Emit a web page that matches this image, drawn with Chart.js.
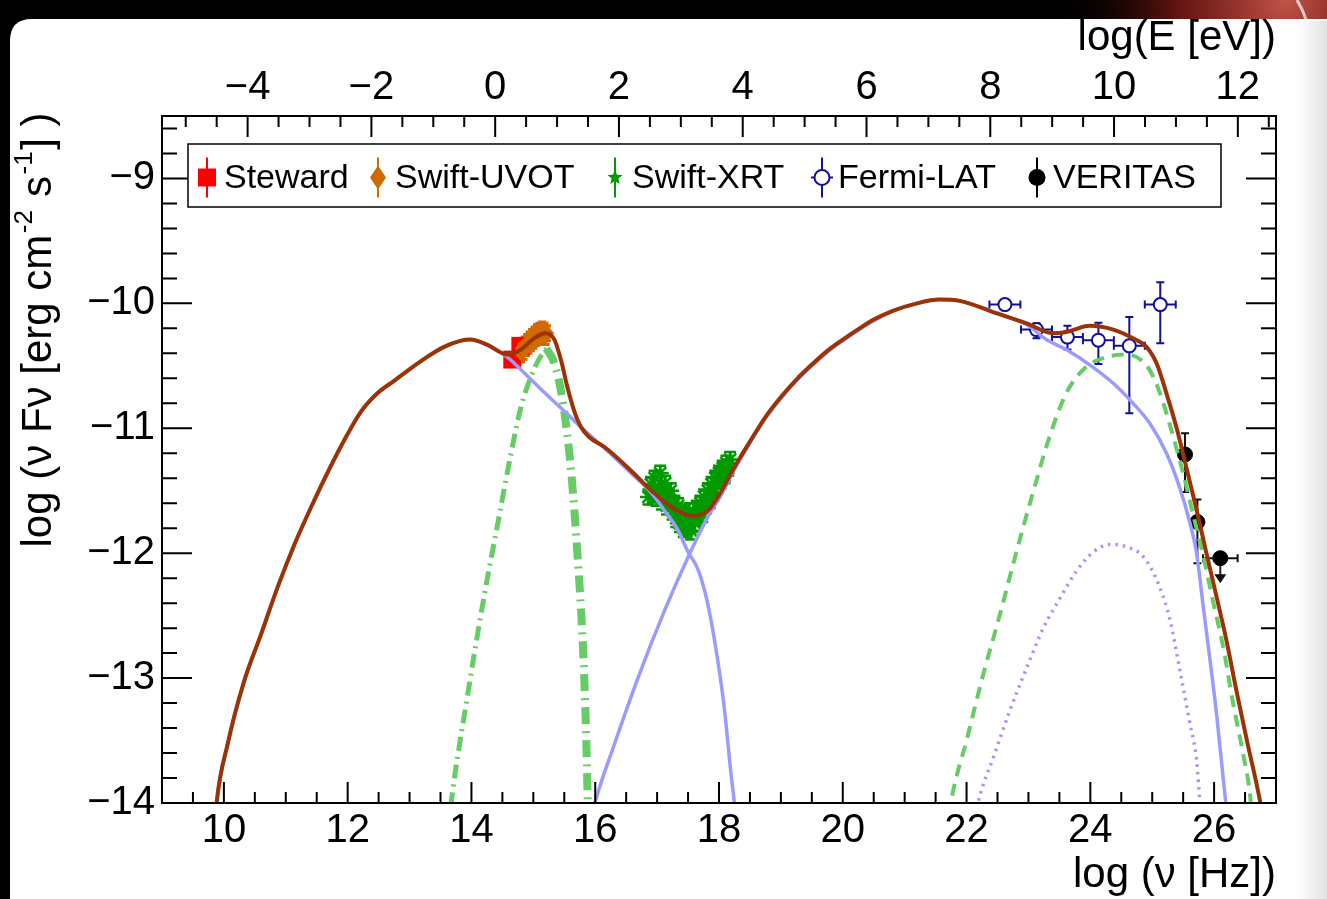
<!DOCTYPE html>
<html>
<head>
<meta charset="utf-8">
<script src="https://cdn.jsdelivr.net/npm/chart.js@4.4.0/dist/chart.umd.min.js"></script>
<style>
  html, body { margin: 0; padding: 0; background: #000; overflow: hidden; }
  canvas { display: block; }
</style>
</head>
<body>
<canvas id="sed" width="1327" height="899"></canvas>
<script>
// ---------------------------------------------------------------------------
// Axis tick values
// ---------------------------------------------------------------------------
const nuTickValues = [10, 12, 14, 16, 18, 20, 22, 24, 26];
const energyTickValues = [-4, -2, 0, 2, 4, 6, 8, 10, 12];
const fluxTickValues = [-14, -13, -12, -11, -10, -9];

// ---------------------------------------------------------------------------
// Observations: log(nu/Hz), log(nu F_nu / erg cm^-2 s^-1) and errors
// ---------------------------------------------------------------------------
const stewardLogNu = [14.79, 14.66];
const stewardLogFlux = [-10.34, -10.45];

const uvotLogNu = [14.80, 14.82, 14.84, 14.86, 14.88, 14.90, 14.92, 14.94, 14.96, 14.98, 15.00,
                   15.02, 15.04, 15.06, 15.08, 15.10, 15.12, 15.14, 15.16, 15.18, 15.20, 15.22];
const uvotLogFlux = [-10.40, -10.36, -10.38, -10.33, -10.35, -10.31, -10.33, -10.29, -10.31, -10.27, -10.29,
                     -10.25, -10.27, -10.23, -10.26, -10.22, -10.25, -10.21, -10.24, -10.22, -10.26, -10.24];
const uvotErr = [0.07, 0.06, 0.07, 0.06, 0.07, 0.06, 0.07, 0.06, 0.07, 0.06, 0.07,
                 0.06, 0.07, 0.06, 0.07, 0.06, 0.07, 0.06, 0.07, 0.06, 0.07, 0.06];

const xrtLogNu = [16.86, 16.90, 16.93, 16.96, 16.99, 17.02, 17.05, 17.08, 17.10, 17.13, 17.16, 17.19,
                  17.22, 17.25, 17.28, 17.31, 17.34, 17.37, 17.40, 17.43, 17.46, 17.49, 17.52, 17.55,
                  17.58, 17.61, 17.64, 17.67, 17.70, 17.73, 17.76, 17.79, 17.82, 17.85, 17.88, 17.91,
                  17.94, 17.97, 18.00, 18.03, 18.06, 18.09, 18.12, 18.15, 18.18];
const xrtLogFlux = [-11.55, -11.45, -11.52, -11.40, -11.55, -11.48, -11.36, -11.58, -11.50, -11.44, -11.62, -11.55,
                    -11.50, -11.66, -11.60, -11.72, -11.62, -11.76, -11.68, -11.80, -11.70, -11.78, -11.66, -11.82,
                    -11.70, -11.76, -11.64, -11.72, -11.60, -11.68, -11.55, -11.62, -11.50, -11.58, -11.45, -11.52,
                    -11.40, -11.46, -11.36, -11.42, -11.32, -11.38, -11.28, -11.32, -11.25];
const xrtErr = [0.06, 0.06, 0.07, 0.06, 0.07, 0.06, 0.06, 0.07, 0.06, 0.06, 0.07, 0.06,
                0.06, 0.07, 0.06, 0.07, 0.06, 0.07, 0.06, 0.07, 0.06, 0.07, 0.06, 0.07,
                0.06, 0.07, 0.06, 0.06, 0.06, 0.07, 0.06, 0.06, 0.06, 0.06, 0.06, 0.06,
                0.06, 0.06, 0.06, 0.06, 0.06, 0.06, 0.06, 0.06, 0.06];

const fermiLogNu = [22.62, 23.13, 23.63, 24.13, 24.63, 25.13];
const fermiLogFlux = [-10.01, -10.21, -10.27, -10.295, -10.34, -10.01];
const fermiErrUp = [0.03, 0.05, 0.09, 0.14, 0.23, 0.18];
const fermiErrDown = [0.03, 0.07, 0.10, 0.19, 0.54, 0.31];
const fermiNuHalfWidth = [0.25, 0.25, 0.25, 0.25, 0.25, 0.25];

const veritasLogNu = [25.53, 25.73, 26.10];
const veritasLogFlux = [-11.21, -11.75, -12.04];
const veritasErrUp = [0.17, 0.18, 0];
const veritasErrDown = [0.30, 0.33, 0];
const veritasNuHalfWidth = [0, 0, 0.28];
const veritasUpperLimit = [false, false, true];

// ---------------------------------------------------------------------------
// Model components: [log nu, log nu F_nu]
// ---------------------------------------------------------------------------
const totalModel = [[9.86, -14.15], [9.88, -14.01], [10.06, -13.53], [10.33, -13.02], [10.6, -12.65],
  [10.87, -12.27], [11.14, -11.93], [11.41, -11.63], [11.68, -11.35], [11.94, -11.10], [12.21, -10.87],
  [12.48, -10.72], [12.75, -10.62], [13.02, -10.52], [13.28, -10.43], [13.55, -10.35], [13.82, -10.30],
  [13.98, -10.29], [14.25, -10.33], [14.58, -10.41], [14.8, -10.37], [15.01, -10.28], [15.2, -10.24],
  [15.34, -10.29], [15.45, -10.46], [15.55, -10.67], [15.66, -10.86], [15.77, -10.99], [15.9, -11.07],
  [16.15, -11.15], [16.58, -11.34], [16.91, -11.50], [17.23, -11.63], [17.55, -11.70], [17.82, -11.66],
  [18.03, -11.51], [18.25, -11.31], [18.52, -11.09], [18.75, -10.91], [19.0, -10.75], [19.25, -10.61],
  [19.5, -10.49], [19.75, -10.38], [20.0, -10.29], [20.27, -10.20], [20.5, -10.13], [20.81, -10.06],
  [21.2, -10.00], [21.56, -9.97], [21.89, -9.98], [22.43, -10.07], [22.97, -10.16], [23.40, -10.24],
  [23.61, -10.23], [23.99, -10.18], [24.37, -10.21], [24.69, -10.28], [24.91, -10.35], [25.07, -10.48],
  [25.23, -10.72], [25.39, -10.99], [25.55, -11.31], [25.72, -11.66], [25.88, -12.01], [26.04, -12.35],
  [26.2, -12.70], [26.36, -13.10], [26.53, -13.50], [26.74, -13.98], [26.78, -14.10]];

const synchrotron = [[9.86, -14.15], [9.88, -14.01], [10.06, -13.53], [10.33, -13.02], [10.6, -12.65],
  [10.87, -12.27], [11.14, -11.93], [11.41, -11.63], [11.68, -11.35], [11.94, -11.10], [12.21, -10.87],
  [12.48, -10.72], [12.75, -10.62], [13.02, -10.52], [13.28, -10.43], [13.55, -10.35], [13.82, -10.30],
  [13.98, -10.29], [14.25, -10.33], [14.58, -10.43], [14.9, -10.58], [15.17, -10.71], [15.45, -10.84],
  [15.77, -10.99], [16.15, -11.16], [16.58, -11.36], [16.91, -11.52], [17.12, -11.66], [17.33, -11.81],
  [17.5, -11.99], [17.66, -12.13], [17.82, -12.41], [17.98, -12.86], [18.09, -13.26], [18.19, -13.75],
  [18.25, -14.01], [18.28, -14.20]];

const selfCompton = [[15.95, -14.10], [15.99, -14.01], [16.31, -13.53], [16.69, -13.0], [17.12, -12.46],
  [17.52, -12.01], [17.82, -11.71], [18.03, -11.54], [18.25, -11.33], [18.52, -11.10], [18.75, -10.92],
  [19.0, -10.76], [19.25, -10.62], [19.5, -10.50], [19.75, -10.39], [20.0, -10.30], [20.27, -10.21],
  [20.5, -10.14], [20.81, -10.06], [21.2, -10.00], [21.56, -9.97], [21.89, -9.98], [22.43, -10.07],
  [22.97, -10.17], [23.29, -10.29], [23.61, -10.37], [24.04, -10.51], [24.37, -10.64], [24.69, -10.80],
  [24.96, -10.96], [25.23, -11.20], [25.44, -11.47], [25.6, -11.74], [25.72, -12.01], [25.82, -12.41],
  [25.93, -12.84], [26.04, -13.29], [26.14, -13.77], [26.2, -14.05]];

const secondaryCompton = [[22.15, -14.10], [22.19, -13.99], [22.43, -13.64], [22.7, -13.26], [22.97, -12.92],
  [23.24, -12.60], [23.51, -12.36], [23.78, -12.14], [24.05, -11.99], [24.32, -11.93], [24.59, -11.95],
  [24.86, -12.03], [25.12, -12.27], [25.29, -12.54], [25.44, -12.92], [25.6, -13.34], [25.72, -13.67],
  [25.77, -13.99], [25.79, -14.10]];

const externalCompton = [[21.72, -14.10], [21.75, -13.99], [22.0, -13.5], [22.27, -12.97], [22.54, -12.49],
  [22.8, -12.0], [23.07, -11.52], [23.34, -11.07], [23.61, -10.72], [23.93, -10.51], [24.26, -10.43],
  [24.59, -10.41], [24.86, -10.47], [25.02, -10.59], [25.18, -10.80], [25.34, -11.07], [25.5, -11.36],
  [25.66, -11.69], [25.82, -12.01], [25.98, -12.38], [26.15, -12.76], [26.31, -13.21], [26.47, -13.61],
  [26.58, -13.93], [26.61, -14.10]];

const thermalRise = [[13.62, -14.25], [13.67, -14.01], [13.94, -13.13], [14.21, -12.33], [14.43, -11.75],
  [14.64, -11.20], [14.8, -10.83], [14.96, -10.59], [15.1, -10.44], [15.21, -10.36]];
const thermalFall = [[15.21, -10.36], [15.34, -10.48], [15.48, -10.80], [15.61, -11.34], [15.72, -12.06],
  [15.8, -12.73], [15.85, -13.40], [15.88, -14.01], [15.89, -14.25]];

// ---------------------------------------------------------------------------
// Styling constants
// ---------------------------------------------------------------------------
const FONT = '"Liberation Sans", Arial, Helvetica, sans-serif';
const LOG_PLANCK_EV = Math.log10(4.135667e-15);
const NU_MIN = 9, NU_MAX = 27, FLUX_MIN = -14, FLUX_MAX = -8.5;

const C_TOTAL = '#9b3306';
const C_BLUE = '#9b9bff';
const C_GREEN = '#66cc66';
const C_STEWARD = '#ff0000';
const C_UVOT = '#d06a00';
const C_XRT = '#009a00';
const C_FERMI = '#10109a';

const pts = (xs, ys) => xs.map((x, i) => ({ x, y: ys[i] }));
const pairs = arr => arr.map(([x, y]) => ({ x, y }));
const fmtTick = v => (v < 0 ? '\u2212' + Math.abs(v) : String(v));

function curve(data, color, width, dash, order) {
  return {
    data: pairs(data), showLine: true, borderColor: color, borderWidth: width,
    borderDash: dash, pointRadius: 0, pointHoverRadius: 0, fill: false,
    cubicInterpolationMode: 'monotone', clip: 0, order
  };
}

function markers(data, style, radius, fillColor, lineColor, lineWidth, order) {
  return {
    data, showLine: false, pointStyle: style, pointRadius: radius, pointHoverRadius: radius,
    pointBackgroundColor: fillColor, pointBorderColor: lineColor, pointBorderWidth: lineWidth,
    clip: 0, order
  };
}

// ---------------------------------------------------------------------------
// Plugins
// ---------------------------------------------------------------------------
const slideBackground = {
  id: 'slideBackground',
  beforeDraw(chart) {
    const { ctx, width, height } = chart;
    ctx.save();
    ctx.fillStyle = '#000';
    ctx.fillRect(0, 0, width, height);
    const glow = ctx.createRadialGradient(1285, 0, 4, 1285, 0, 230);
    glow.addColorStop(0, 'rgba(190,80,70,1)');
    glow.addColorStop(0.45, 'rgba(120,25,20,0.85)');
    glow.addColorStop(1, 'rgba(0,0,0,0)');
    ctx.fillStyle = glow;
    ctx.fillRect(1000, 0, width - 1000, 40);
    ctx.strokeStyle = 'rgba(235,225,225,0.85)';
    ctx.lineWidth = 3;
    ctx.beginPath();
    ctx.moveTo(1297, 0);
    ctx.quadraticCurveTo(1303, 10, 1307, 22);
    ctx.stroke();
    // white panel
    const x0 = 10, y0 = 19, r = 22;
    ctx.fillStyle = '#fff';
    ctx.beginPath();
    ctx.moveTo(x0 + r, y0);
    ctx.lineTo(width + 10, y0);
    ctx.lineTo(width + 10, height + 10);
    ctx.lineTo(x0, height + 10);
    ctx.lineTo(x0, y0 + r);
    ctx.quadraticCurveTo(x0, y0, x0 + r, y0);
    ctx.fill();
    const fade = ctx.createLinearGradient(1296, 0, width, 0);
    fade.addColorStop(0, 'rgba(232,232,232,0)');
    fade.addColorStop(1, 'rgba(226,226,226,1)');
    ctx.fillStyle = fade;
    ctx.fillRect(1296, y0 + 2, width - 1296, height);
    ctx.restore();
  }
};

function drawErrorBars(ctx, sx, sy, xs, ys, up, down, xHalf, color, width, cap) {
  ctx.save();
  ctx.strokeStyle = color;
  ctx.lineWidth = width;
  ctx.beginPath();
  xs.forEach((x, i) => {
    const px = sx.getPixelForValue(x);
    if (up && (up[i] || down[i])) {
      const yTop = sy.getPixelForValue(ys[i] + up[i]);
      const yBot = sy.getPixelForValue(ys[i] - down[i]);
      ctx.moveTo(px, yTop); ctx.lineTo(px, yBot);
      if (cap) {
        ctx.moveTo(px - cap, yTop); ctx.lineTo(px + cap, yTop);
        ctx.moveTo(px - cap, yBot); ctx.lineTo(px + cap, yBot);
      }
    }
    if (xHalf && xHalf[i]) {
      const py = sy.getPixelForValue(ys[i]);
      const xl = sx.getPixelForValue(x - xHalf[i]);
      const xr = sx.getPixelForValue(x + xHalf[i]);
      ctx.moveTo(xl, py); ctx.lineTo(xr, py);
      if (cap) {
        ctx.moveTo(xl, py - cap); ctx.lineTo(xl, py + cap);
        ctx.moveTo(xr, py - cap); ctx.lineTo(xr, py + cap);
      }
    }
  });
  ctx.stroke();
  ctx.restore();
}

const errorBarPlugin = {
  id: 'errorBars',
  beforeDatasetsDraw(chart) {
    const { ctx, scales: { x: sx, y: sy } } = chart;
    drawErrorBars(ctx, sx, sy, uvotLogNu, uvotLogFlux, uvotErr, uvotErr, null, C_UVOT, 3, 4);
    drawErrorBars(ctx, sx, sy, xrtLogNu, xrtLogFlux, xrtErr, xrtErr, null, C_XRT, 2.5, 6);
    drawErrorBars(ctx, sx, sy, fermiLogNu, fermiLogFlux, fermiErrUp, fermiErrDown, fermiNuHalfWidth, C_FERMI, 2, 4);
    drawErrorBars(ctx, sx, sy, veritasLogNu, veritasLogFlux, veritasErrUp, veritasErrDown, veritasNuHalfWidth, '#111', 2, 4);
    // upper-limit arrows
    ctx.save();
    ctx.strokeStyle = '#222';
    ctx.fillStyle = '#111';
    ctx.lineWidth = 2;
    veritasLogNu.forEach((x, i) => {
      if (!veritasUpperLimit[i]) return;
      const px = sx.getPixelForValue(x);
      const py = sy.getPixelForValue(veritasLogFlux[i]);
      ctx.beginPath();
      ctx.moveTo(px, py); ctx.lineTo(px, py + 17);
      ctx.stroke();
      ctx.beginPath();
      ctx.moveTo(px - 6, py + 16); ctx.lineTo(px + 6, py + 16); ctx.lineTo(px, py + 25);
      ctx.closePath();
      ctx.fill();
    });
    ctx.restore();
  }
};

function drawLegendMarker(ctx, x, y, color, style, filled, horizontal) {
  ctx.save();
  ctx.strokeStyle = color;
  ctx.lineWidth = 2;
  ctx.beginPath();
  ctx.moveTo(x, y - 20); ctx.lineTo(x, y + 20);
  if (horizontal) { ctx.moveTo(x - 11, y); ctx.lineTo(x + 11, y); }
  ctx.stroke();
  ctx.fillStyle = color;
  ctx.beginPath();
  if (style === 'square') {
    ctx.fillRect(x - 9, y - 9, 18, 18);
  } else if (style === 'diamond') {
    ctx.moveTo(x, y - 12); ctx.lineTo(x + 8, y); ctx.lineTo(x, y + 12); ctx.lineTo(x - 8, y); ctx.closePath();
    ctx.fill();
  } else if (style === 'star') {
    for (let k = 0; k < 10; k++) {
      const a = -Math.PI / 2 + k * Math.PI / 5;
      const rr = k % 2 === 0 ? 8 : 3.5;
      const px = x + rr * Math.cos(a), py = y + rr * Math.sin(a);
      if (k === 0) ctx.moveTo(px, py); else ctx.lineTo(px, py);
    }
    ctx.closePath();
    ctx.fill();
  } else if (style === 'circle') {
    if (filled) {
      ctx.arc(x, y, 8.5, 0, Math.PI * 2);
      ctx.fill();
    } else {
      ctx.arc(x, y, 7.5, 0, Math.PI * 2);
      ctx.fillStyle = '#fff'; ctx.fill(); ctx.stroke();
    }
  }
  ctx.restore();
}

const framePlugin = {
  id: 'frameTicksLegend',
  afterDraw(chart) {
    const { ctx, chartArea: a, scales } = chart;
    const sx = scales.x, sx2 = scales.x2, sy = scales.y;
    ctx.save();
    ctx.strokeStyle = '#000';
    ctx.lineWidth = 2;
    ctx.strokeRect(a.left, a.top, a.right - a.left, a.bottom - a.top);
    ctx.beginPath();
    // bottom axis: log nu
    for (let v = NU_MIN; v <= NU_MAX + 1e-6; v += 0.5) {
      const p = sx.getPixelForValue(v);
      const len = Math.abs(v % 2) < 1e-6 ? 21 : 11;
      ctx.moveTo(p, a.bottom); ctx.lineTo(p, a.bottom - len);
    }
    // top axis: log E
    for (let v = -5; v <= sx2.max + 1e-6; v += 0.5) {
      if (v < sx2.min) continue;
      const p = sx2.getPixelForValue(v);
      const len = Math.abs(v % 2) < 1e-6 ? 21 : 11;
      ctx.moveTo(p, a.top); ctx.lineTo(p, a.top + len);
    }
    // left and right: log nu F nu
    for (let k = 0; k <= 27; k++) {
      const v = FLUX_MIN + k * 0.2;
      const p = sy.getPixelForValue(v);
      const major = Math.abs(v - Math.round(v)) < 1e-6;
      const len = major ? 30 : 15;
      ctx.moveTo(a.left, p); ctx.lineTo(a.left + len, p);
      ctx.moveTo(a.right, p); ctx.lineTo(a.right - len, p);
    }
    ctx.stroke();

    // legend box
    const lx = 188, ly = 144, lw = 1033, lh = 63, cy = ly + lh / 2 + 2;
    ctx.fillStyle = '#fff';
    ctx.fillRect(lx, ly, lw, lh);
    ctx.lineWidth = 1.5;
    ctx.strokeRect(lx, ly, lw, lh);
    const entries = [
      { label: 'Steward', mx: 207, tx: 224, color: C_STEWARD, style: 'square', filled: true },
      { label: 'Swift-UVOT', mx: 378, tx: 395, color: C_UVOT, style: 'diamond', filled: true },
      { label: 'Swift-XRT', mx: 615, tx: 632, color: C_XRT, style: 'star', filled: true },
      { label: 'Fermi-LAT', mx: 822, tx: 838, color: C_FERMI, style: 'circle', filled: false, horizontal: true },
      { label: 'VERITAS', mx: 1037, tx: 1053, color: '#000', style: 'circle', filled: true }
    ];
    ctx.font = '34px ' + FONT;
    ctx.textBaseline = 'middle';
    ctx.textAlign = 'left';
    entries.forEach(e => {
      drawLegendMarker(ctx, e.mx, cy, e.color, e.style, e.filled, e.horizontal);
      ctx.fillStyle = '#000';
      ctx.fillText(e.label, e.tx, cy + 1);
    });

    // vertical axis title with superscripts
    const size = 42, supSize = 26;
    const parts = [
      ['log (\u03bd F\u03bd [erg cm', false], ['-2', true], [' s', false], ['-1', true], ['] )', false]
    ];
    let total = 0;
    parts.forEach(([t, sup]) => {
      ctx.font = (sup ? supSize : size) + 'px ' + FONT;
      total += ctx.measureText(t).width + (sup ? 3 : 0);
    });
    ctx.translate(51, 330);
    ctx.rotate(-Math.PI / 2);
    ctx.fillStyle = '#000';
    ctx.textBaseline = 'alphabetic';
    let cx = -total / 2;
    parts.forEach(([t, sup]) => {
      ctx.font = (sup ? supSize : size) + 'px ' + FONT;
      ctx.fillText(t, cx + (sup ? 1.5 : 0), sup ? -19 : 0);
      cx += ctx.measureText(t).width + (sup ? 3 : 0);
    });
    ctx.restore();
  }
};

// ---------------------------------------------------------------------------
// Chart
// ---------------------------------------------------------------------------
const tickFont = { family: FONT, size: 40 };
const titleFont = { family: FONT, size: 42 };

new Chart(document.getElementById('sed'), {
  type: 'scatter',
  data: {
    datasets: [
      markers(pts(stewardLogNu, stewardLogFlux), 'rect', 12.7, C_STEWARD, C_STEWARD, 0, 30),
      markers(pts(uvotLogNu, uvotLogFlux), 'rectRot', 7, C_UVOT, C_UVOT, 1, 29),
      markers(pts(xrtLogNu, xrtLogFlux), 'star', 8.5, C_XRT, C_XRT, 2.5, 28),
      markers(pts(fermiLogNu, fermiLogFlux), 'circle', 6.5, '#ffffff', C_FERMI, 2, 27),
      markers(pts(veritasLogNu, veritasLogFlux), 'circle', 7.5, '#000000', '#000000', 1, 26),
      curve(secondaryCompton, C_BLUE, 3.5, [2.5, 5], 8),
      curve(externalCompton, C_GREEN, 4, [12, 8], 7),
      curve(thermalRise, C_GREEN, 5, [14, 6, 2, 6], 6),
      curve(thermalFall, C_GREEN, 8, [17, 7, 2, 7], 6),
      curve(synchrotron, C_BLUE, 3.5, [], 5),
      curve(selfCompton, C_BLUE, 3.5, [], 4),
      curve(totalModel, C_TOTAL, 4, [], 1)
    ]
  },
  options: {
    responsive: false,
    animation: false,
    events: [],
    layout: { padding: 0 },
    plugins: { legend: { display: false }, tooltip: { enabled: false } },
    scales: {
      x: {
        type: 'linear', position: 'bottom', min: NU_MIN, max: NU_MAX,
        afterBuildTicks: s => { s.ticks = nuTickValues.map(v => ({ value: v })); },
        afterFit: s => { s.height = 96; },
        grid: { display: false, drawTicks: false }, border: { display: false },
        ticks: { color: '#000', font: tickFont, padding: 4, maxRotation: 0, autoSkip: false, callback: fmtTick },
        title: { display: true, text: 'log (\u03bd [Hz])', align: 'end', color: '#000', font: titleFont, padding: { top: 0, bottom: -2 } }
      },
      x2: {
        type: 'linear', position: 'top',
        min: NU_MIN + LOG_PLANCK_EV, max: NU_MAX + LOG_PLANCK_EV,
        afterBuildTicks: s => { s.ticks = energyTickValues.map(v => ({ value: v })); },
        afterFit: s => { s.height = 116; },
        grid: { display: false, drawTicks: false }, border: { display: false },
        ticks: { color: '#000', font: tickFont, padding: 4, maxRotation: 0, autoSkip: false, callback: fmtTick },
        title: { display: true, text: 'log(E [eV])', align: 'end', color: '#000', font: titleFont, padding: { top: 13, bottom: 0 } }
      },
      y: {
        type: 'linear', position: 'left', min: FLUX_MIN, max: FLUX_MAX,
        afterBuildTicks: s => { s.ticks = fluxTickValues.map(v => ({ value: v })); },
        afterFit: s => { s.width = 162; },
        grid: { display: false, drawTicks: false }, border: { display: false },
        ticks: { color: '#000', font: tickFont, padding: 7, autoSkip: false, callback: fmtTick }
      },
      y2: {
        type: 'linear', position: 'right', min: FLUX_MIN, max: FLUX_MAX,
        afterFit: s => { s.width = 51; },
        grid: { display: false, drawTicks: false }, border: { display: false },
        ticks: { display: false }
      }
    }
  },
  plugins: [slideBackground, errorBarPlugin, framePlugin]
});
</script>
</body>
</html>
